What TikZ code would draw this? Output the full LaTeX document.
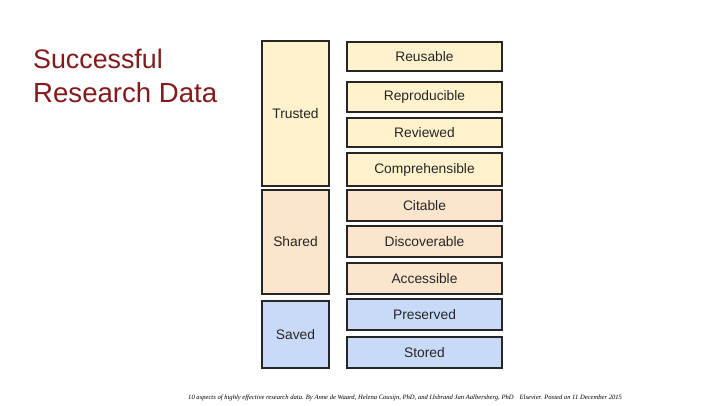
\documentclass[tikz,border=0pt]{standalone}
\usepackage{fontspec}
\setmainfont{Liberation Sans}
\newfontfamily\capfont{Liberation Serif}
\definecolor{trustfill}{HTML}{FFF2CC}
\definecolor{sharefill}{HTML}{FCE5CD}
\definecolor{savefill}{HTML}{C9DAF8}
\definecolor{boxline}{HTML}{262626}
\definecolor{titlered}{HTML}{861A1A}
\definecolor{txt}{HTML}{262626}
\begin{document}
\begin{tikzpicture}[x=1pt,y=-1pt,
  box/.style={draw=boxline,line width=2pt,inner sep=0pt,text=txt,
    font=\fontsize{13.8}{16}\selectfont},
  leftbox/.style={box,minimum width=67pt},
  rightbox/.style={box,minimum width=155pt},
  titletext/.style={anchor=base west,inner sep=0pt,text=titlered,
    font=\fontsize{26.8}{32}\selectfont}]
\useasboundingbox (0,0) rectangle (720,405);
\fill[white] (0,0) rectangle (720,405);

\node[titletext] (title1) at (33,68) {Successful};
\node[titletext,font=\fontsize{27.6}{32}\selectfont] (title2) at (33,102) {Research Data};

\node[leftbox,fill=trustfill,minimum height=145pt] (trusted) at (295.5,113.5) {Trusted};
\node[leftbox,fill=sharefill,minimum height=104pt] (shared) at (295.5,242) {Shared};
\node[leftbox,fill=savefill,minimum height=67pt] (saved) at (295.5,334.5) {Saved};

\node[rightbox,fill=trustfill,minimum height=29pt] (reusable) at (424.5,56.5) {Reusable};
\node[rightbox,fill=trustfill,minimum height=30pt] (reproducible) at (424.5,97) {Reproducible};
\node[rightbox,fill=trustfill,minimum height=29pt] (reviewed) at (424.5,132.5) {Reviewed};
\node[rightbox,fill=trustfill,minimum height=33pt] (comprehensible) at (424.5,169.5) {Comprehensible};
\node[rightbox,fill=sharefill,minimum height=31pt] (citable) at (424.5,205.5) {Citable};
\node[rightbox,fill=sharefill,minimum height=31pt] (discoverable) at (424.5,241.5) {Discoverable};
\node[rightbox,fill=sharefill,minimum height=31pt] (accessible) at (424.5,278.5) {Accessible};
\node[rightbox,fill=savefill,minimum height=31pt] (preserved) at (424.5,314.5) {Preserved};
\node[rightbox,fill=savefill,minimum height=31pt] (stored) at (424.5,352.5) {Stored};

\node[anchor=base west,inner sep=0pt,text=black,font=\capfont\itshape\fontsize{6.6}{7}\selectfont] (caption) at (188,399)
  {10 aspects of highly effective research data. By Anne de Waard, Helena Cousijn, PhD, and IJsbrand Jan Aalbersberg, PhD\hspace{6pt}Elsevier. Posted on 11 December 2015};
\end{tikzpicture}
\end{document}
